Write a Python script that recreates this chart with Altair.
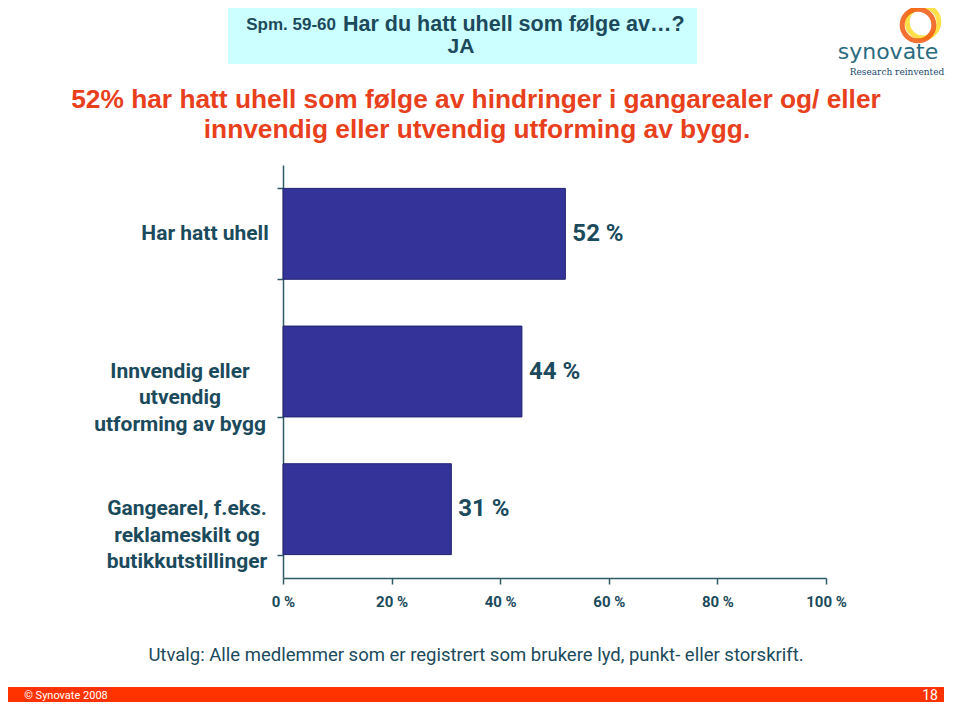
import altair as alt
import pandas as pd

# ---- data ----
categories = ["Har hatt uhell",
              "Innvendig eller|utvendig|utforming av bygg",
              "Gangearel, f.eks.|reklameskilt og|butikkutstillinger"]
values = [52, 44, 31]
x_ticks = [0, 20, 40, 60, 80, 100]

title_small = "Spm. 59-60"
title_main = "Har du hatt uhell som følge av…?"
title_line2 = "JA"
subtitle_1 = "52% har hatt uhell som følge av hindringer i gangarealer og/ eller"
subtitle_2 = "innvendig eller utvendig utforming av bygg."
footnote = "Utvalg: Alle medlemmer som er registrert som brukere lyd, punkt- eller storskrift."
footer_left = "© Synovate 2008"
footer_right = "18"

df = pd.DataFrame({"cat": categories, "val": values})

NARROW = "Roboto"
SANS = "Liberation Sans"
TEAL = "#1b4a5c"
AXIS = "#2f5a66"

W, H = 543, 413

y_enc = alt.Y("cat:N", sort=categories,
              scale=alt.Scale(paddingInner=0.34, paddingOuter=0.17),
              axis=alt.Axis(title=None, labels=False, tickBand="extent", tickSize=6,
                            domainColor=AXIS, tickColor=AXIS, domainWidth=1.5, tickWidth=1.5))
x_enc = alt.X("val:Q", scale=alt.Scale(domain=[0, 100]),
              axis=alt.Axis(title=None, values=x_ticks, grid=False, tickSize=6,
                            labelExpr="datum.value + ' %'", labelFont=NARROW,
                            labelFontSize=15, labelFontWeight="bold", labelColor=TEAL,
                            labelPadding=10, domainColor=AXIS, tickColor=AXIS,
                            domainWidth=1.5, tickWidth=1.5, labelFlush=False))

base = alt.Chart(df)

bars = base.mark_bar(color="#333399", stroke="#22226e", strokeWidth=1).encode(x=x_enc, y=y_enc)

vals = (base.transform_calculate(lbl="datum.val + ' %'")
        .mark_text(align="left", baseline="middle", dx=7, font=NARROW, fontSize=24,
                   fontWeight="bold", color=TEAL)
        .encode(x="val:Q", y=alt.Y("cat:N", sort=categories), text="lbl:N"))

label_x = [-78, -103, -96]
labels = []
for c, lx in zip(categories, label_x):
    labels.append(
        alt.Chart(df).transform_filter(alt.datum.cat == c)
        .mark_text(align="center", baseline="middle", lineBreak="|", lineHeight=26.5,
                   font=NARROW, fontSize=21, fontWeight="bold", color=TEAL)
        .encode(x=alt.value(lx), y=alt.Y("cat:N", sort=categories), text="cat:N")
    )

one = alt.Chart(pd.DataFrame({"a": [0]}))

def txt(s, x, y, size, color, font=SANS, weight="normal", align="center", baseline="middle"):
    return one.mark_text(text=s, align=align, baseline=baseline, font=font, fontSize=size,
                         fontWeight=weight, color=color).encode(x=alt.value(x), y=alt.value(y))

def rect(x, x2, y, y2, color):
    return one.mark_rect(color=color).encode(x=alt.value(x), x2=alt.value(x2),
                                             y=alt.value(y), y2=alt.value(y2))

deco = [
    rect(-55, 414, -161, -101, "#ccffff"),
    txt(title_small, 53, -140, 17, TEAL, weight="bold", align="right"),
    txt(title_main, 60, -140, 21.5, TEAL, weight="bold", align="left"),
    txt(title_line2, 178, -118, 21, TEAL, weight="bold"),
    txt(subtitle_1, 193, -65, 26.3, "#e8401c", weight="bold"),
    txt(subtitle_2, 194, -35, 26.3, "#e8401c", weight="bold"),
    txt(footnote, 193, 490, 18.5, TEAL, font=NARROW),
    rect(-278, 661, 522, 539, "#ff3300"),
    txt(footer_left, -217, 530.5, 11, "white", font=NARROW),
    txt(footer_right, 655, 530.5, 14, "white", font=NARROW, align="right"),
    # logo
    one.mark_point(shape="circle", filled=False, size=1000, stroke="#ffd400", strokeWidth=5)
       .encode(x=alt.value(640), y=alt.value(-143)),
    one.mark_point(shape="circle", filled=False, size=1000, stroke="#f25a10", strokeWidth=5, opacity=0.85)
       .encode(x=alt.value(635), y=alt.value(-140)),
    txt("synovate", 605, -113, 22, "#2a6b80", font="DejaVu Sans"),
    txt("Research reinvented", 614, -93, 9, "#1a4a6e", font="DejaVu Serif"),
]

chart = alt.layer(bars, vals, *labels, *deco).properties(
    width=W, height=H,
    background="white",
    autosize=alt.AutoSizeParams(type="none"),
    padding={"left": 275, "top": 157, "right": 126, "bottom": 124},
).configure_view(strokeWidth=0, stroke="transparent")

chart.save("out.html", embed_options={"renderer": "svg", "actions": False})
